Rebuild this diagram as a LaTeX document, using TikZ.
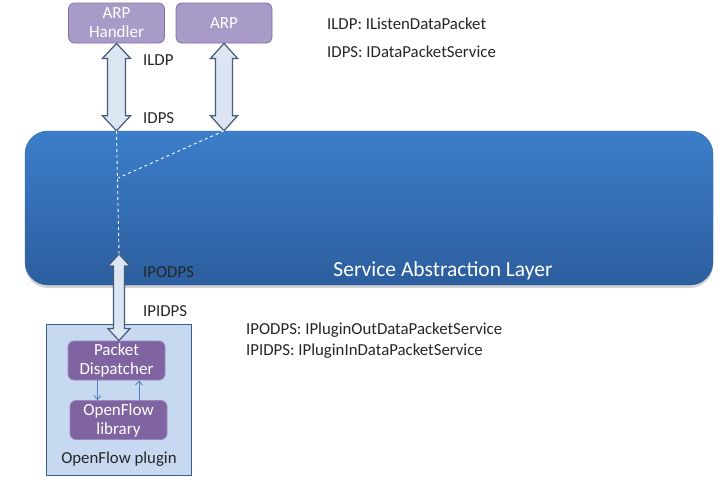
\documentclass[tikz,border=0pt]{standalone}
\usepackage{fontspec}
\setmainfont{Carlito}
\usetikzlibrary{calc,shadows,arrows.meta}

\definecolor{arpfill}{RGB}{168,155,200}
\definecolor{arpline}{RGB}{128,112,170}
\definecolor{dispfill}{RGB}{128,100,162}
\definecolor{displine}{RGB}{155,135,190}
\definecolor{plugfill}{RGB}{198,217,241}
\definecolor{plugline}{RGB}{56,93,138}
\definecolor{arrfill}{RGB}{220,230,242}
\definecolor{arrline}{RGB}{68,90,120}
\definecolor{saltop}{RGB}{60,126,202}
\definecolor{salbot}{RGB}{44,94,158}
\definecolor{salline}{RGB}{50,100,165}
\definecolor{thinblue}{RGB}{79,129,189}

% fat double arrow: top tip, bottom tip, shaft half width, head half width, head length
\newcommand{\fatarrow}[5]{%
  \draw[fatarrow] (#1) -- ($(#1)+(#4,#5)$) -- ($(#1)+(#3,#5)$)
    -- ($(#2)+(#3,-#5)$) -- ($(#2)+(#4,-#5)$) -- (#2)
    -- ($(#2)+(-#4,-#5)$) -- ($(#2)+(-#3,-#5)$)
    -- ($(#1)+(-#3,#5)$) -- ($(#1)+(-#4,#5)$) -- cycle;}

\begin{document}
\begin{tikzpicture}[x=1pt,y=-1pt,
        font=\fontsize{16.8}{18}\selectfont,
        arpbox/.style={draw=arpline,fill=arpfill,rounded corners=6pt,text=white,
            minimum width=96pt,minimum height=40pt,align=center,inner sep=0pt,line width=0.8pt,
            font=\fontsize{17}{19}\selectfont},
        inbox/.style={draw=displine,fill=dispfill,rounded corners=6pt,text=white,
            minimum width=97pt,minimum height=39pt,align=center,inner sep=0pt,line width=0.8pt,
            font=\fontsize{17}{19}\selectfont},
        fatarrow/.style={draw=arrline,fill=arrfill,line width=1.2pt,line join=miter},
        thinarrow/.style={draw=thinblue,line width=0.8pt,-{Straight Barb[length=4pt,width=7pt]}},
        lbl/.style={anchor=west,inner sep=0pt,text=black!85}]
\useasboundingbox (0,0) rectangle (727,491);

% service abstraction layer
\node[draw=salline,rounded corners=23pt,top color=saltop,bottom color=salbot,
    minimum width=688pt,minimum height=154pt,
    drop shadow={shadow xshift=0pt,shadow yshift=-3pt,opacity=0.35}] (sal) at (369,208) {};
\node[text=white,font=\fontsize{21.5}{23}\selectfont] (saltext) at ($(sal.south)+(74,-14)$) {Service Abstraction Layer};

% applications
\node[arpbox] (arph) at (116.5,23) {ARP\\Handler};
\node[arpbox] (arp) at (224,23) {ARP};

% plugin
\node[draw=plugline,fill=plugfill,line width=1.2pt,minimum width=145pt,minimum height=151pt,
    inner sep=0pt] (plugin) at (119,400) {};
\node[inbox] (disp) at (116.5,360.5) {Packet\\Dispatcher};
\node[inbox] (oflib) at (118.5,420) {OpenFlow\\library};
\node[inner sep=0pt,text=black!85] (plugtext) at ($(plugin.south)+(0,-17)$) {OpenFlow plugin};

% interfaces
\coordinate (ipo) at (119,254);
\coordinate (join) at (118,178);
\fatarrow{arph.south}{arph.south |- sal.north}{9}{14}{15}
\fatarrow{arp.south}{arp.south |- sal.north}{8.5}{13.5}{15}
\fatarrow{ipo}{ipo |- disp.north}{5.5}{11}{12}

\draw[white,dashed,line width=0.9pt] (arph.south |- sal.north) -- (ipo);
\draw[white,dashed,line width=0.9pt] (arp.south |- sal.north) -- (join);

\draw[thinarrow] ([xshift=-19pt]disp.south) -- ([xshift=-19pt]disp.south |- oflib.north);
\draw[thinarrow] ([xshift=22.5pt]disp.south |- oflib.north) -- ([xshift=22.5pt]disp.south);

% labels
\node[lbl] (ildp) at (143,60) {ILDP};
\node[lbl] (idps) at (143,118) {IDPS};
\node[lbl] (ipodps) at (143,272) {IPODPS};
\node[lbl] (ipidps) at (143,311) {IPIDPS};

\node[lbl] (leg1) at (327,24) {ILDP: IListenDataPacket};
\node[lbl] (leg2) at (327,52) {IDPS: IDataPacketService};
\node[lbl] (leg3) at (246,330) {IPODPS: IPluginOutDataPacketService};
\node[lbl] (leg4) at (246,351) {IPIDPS: IPluginInDataPacketService};
\end{tikzpicture}
\end{document}
